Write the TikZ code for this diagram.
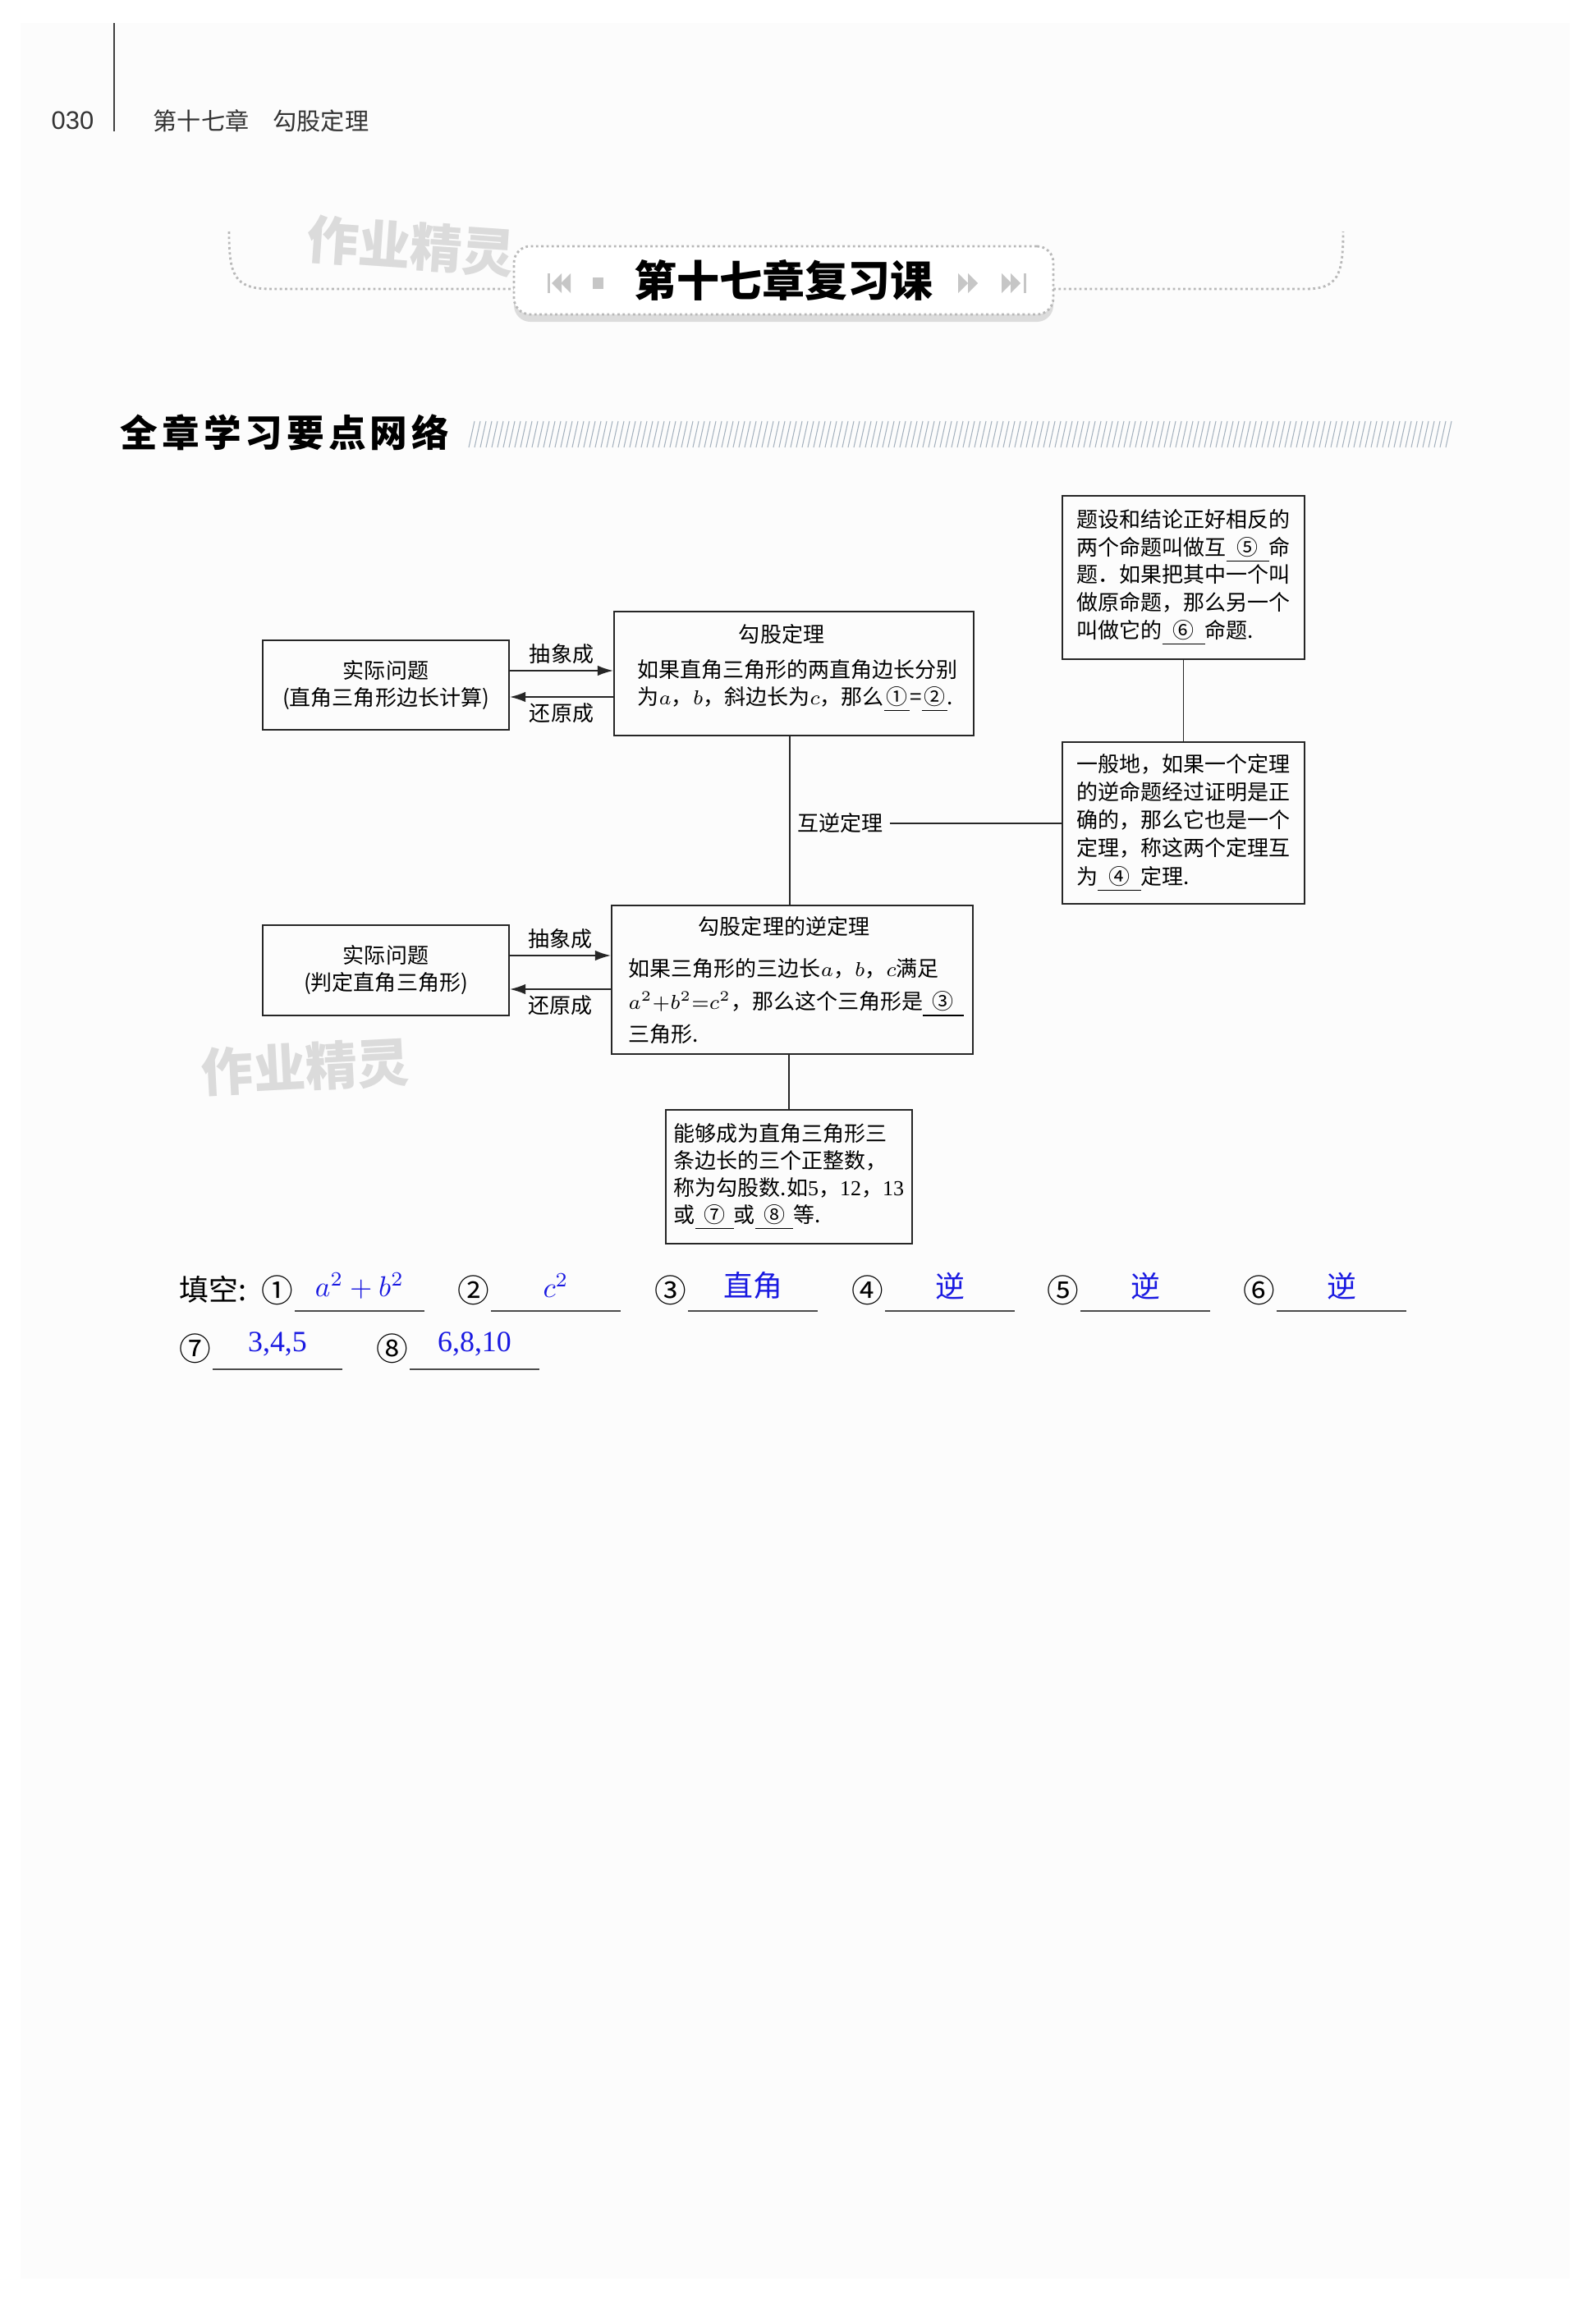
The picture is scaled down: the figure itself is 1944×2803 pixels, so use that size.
\documentclass[tikz,border=0pt]{standalone}
\usepackage{fontspec}
\setmainfont{Noto Sans CJK SC}
\newfontfamily\numfont{Liberation Serif}
\newfontfamily\pagefont{Liberation Sans}
\usetikzlibrary{arrows.meta,shadows}

\definecolor{pagegray}{RGB}{252,252,252}
\definecolor{hatchblue}{RGB}{165,178,190}
\definecolor{ansblue}{RGB}{25,25,225}

\newcommand{\boxfont}{\fontsize{7.4pt}{9.4pt}\selectfont}
\newcommand{\blankno}[2][2em]{\underline{\makebox[#1]{#2}}}

\begin{document}
\begin{tikzpicture}[x=0.1mm,y=-0.1mm,
    box/.style={draw=black!85,line width=0.5pt,inner sep=0pt,align=left,font=\boxfont},
    lbl/.style={inner sep=2pt,font=\boxfont},
    plain/.style={draw=black!85,line width=0.5pt},
    link/.style={plain,line width=0.6pt,-{Latex[length=5.5pt,width=3.6pt]}},
    wmark/.style={gray!28,font=\fontsize{18pt}{18pt}\selectfont\bfseries},
    deco/.style={fill=gray!45},
    circnum/.style={inner sep=0pt,font=\fontsize{11pt}{11pt}\selectfont},
    answer/.style={ansblue,inner sep=0pt,minimum width=15.6mm,minimum height=6mm,anchor=south,
                   font=\fontsize{10.2pt}{10.2pt}\selectfont},
    uline/.style={draw=black!70,line width=0.5pt}]
  \useasboundingbox (0,0) rectangle (1944,2803);
  \fill[pagegray] (25,28) rectangle (1912,2776);

  % Page header
  \draw[line width=0.6pt,black!75] (139,28) -- (139,160);
  \node[anchor=west,inner sep=0pt,black!80,font=\pagefont\fontsize{8.8pt}{8.8pt}\selectfont] (pageno) at (62,147) {030};
  \node[anchor=west,inner sep=0pt,black!80,font=\fontsize{8.3pt}{8.3pt}\selectfont] (chapter) at (186,147) {第十七章\quad 勾股定理};

  % Title banner
  \draw[gray!55,densely dotted,line width=0.8pt] (279,282) .. controls (279,335) and (285,352) .. (330,352) -- (626,352);
  \draw[gray!55,densely dotted,line width=0.8pt] (1283,352) -- (1590,352) .. controls (1630,352) and (1636,335) .. (1636,282);
  \node[wmark,rotate=-4] (wmtop) at (500,300) {作业精灵};
  \node[draw=gray!55,densely dotted,line width=0.8pt,fill=white,rounded corners=2mm,
        minimum width=65.7mm,minimum height=8.3mm,
        drop shadow={shadow xshift=0mm,shadow yshift=-0.9mm,opacity=0.25},
        font=\fontsize{14.8pt}{14.8pt}\selectfont\bfseries] (banner) at (954.5,341.5) {第十七章复习课};
  \fill[deco] (667,333) rectangle (670,357);
  \fill[deco] (672,345) -- (684,333) -- (684,357) -- cycle;
  \fill[deco] (683,345) -- (695,333) -- (695,357) -- cycle;
  \fill[deco] (722,338) rectangle (735,352);
  \fill[deco] (1167,333) -- (1179,345) -- (1167,357) -- cycle;
  \fill[deco] (1179,333) -- (1191,345) -- (1179,357) -- cycle;
  \fill[deco] (1220,333) -- (1232,345) -- (1220,357) -- cycle;
  \fill[deco] (1231,333) -- (1243,345) -- (1231,357) -- cycle;
  \fill[deco] (1247,333) rectangle (1250,357);

  % Section heading
  \node[anchor=west,inner sep=0pt,font=\fontsize{13pt}{13pt}\selectfont\bfseries\addfontfeature{LetterSpace=11}] (heading) at (146,527) {全章学习要点网络};
  \foreach \hx in {571,578,...,1764}
    \draw[hatchblue,line width=0.3pt] (\hx,545) -- (\hx+7,513);

  % Boxes
  \node[box,align=center,minimum width=30mm,minimum height=10.9mm] (realA) at (470,834.5) {实际问题\\(直角三角形边长计算)};
  \node[box,minimum width=43.8mm,minimum height=15.1mm] (pyth) at (967,820.5) {};
  \node[lbl] (pythtitle) at (952,773) {勾股定理};
  \node[lbl,anchor=west,align=left] (pythtext) at (769,835.5) {如果直角三角形的两直角边长分别\\为$a$，$b$，斜边长为$c$，那么\blankno[1.2em]{①}=\blankno[1.2em]{②}.};

  \node[box,minimum width=29.5mm,minimum height=19.9mm,font=\fontsize{7.4pt}{9.6pt}\selectfont] (defn) at (1441.5,703.5) {题设和结论正好相反的\\两个命题叫做互\blankno{⑤}命\\题．如果把其中一个叫\\做原命题，那么另一个\\叫做它的\blankno{⑥}命题.};
  \node[box,minimum width=29.5mm,minimum height=19.7mm,font=\fontsize{7.4pt}{9.7pt}\selectfont] (general) at (1441.5,1002.5) {一般地，如果一个定理\\的逆命题经过证明是正\\确的，那么它也是一个\\定理，称这两个定理互\\为\blankno{④}定理.};

  \node[box,align=center,minimum width=30mm,minimum height=11mm] (realE) at (470,1182) {实际问题\\(判定直角三角形)};
  \node[box,minimum width=44mm,minimum height=18.1mm] (conv) at (965,1193.5) {};
  \node[lbl] (convtitle) at (955,1129) {勾股定理的逆定理};
  \node[lbl,anchor=west,align=left,font=\fontsize{7.4pt}{11.4pt}\selectfont] (convtext) at (758,1220) {如果三角形的三边长$a$，$b$，$c$满足\\$a^2{+}b^2{=}c^2$，那么这个三角形是\blankno[1.9em]{③}\\三角形.};

  \node[box,minimum width=30mm,minimum height=16.3mm] (triple) at (961,1433.5) {能够成为直角三角形三\\条边长的三个正整数，\\称为勾股数.如{\numfont 5}，{\numfont 12}，{\numfont 13}\\或\blankno[1.8em]{⑦}或\blankno[1.8em]{⑧}等.};

  % Arrows
  \coordinate (absA) at ([yshift=1.75mm]realA.east);
  \coordinate (retA) at ([yshift=-1.45mm]realA.east);
  \draw[link] (absA) -- (absA -| pyth.west) node[midway,above,lbl] (absAlbl) {抽象成};
  \draw[link] (retA -| pyth.west) -- (retA) node[midway,below,lbl] (retAlbl) {还原成};
  \coordinate (absE) at ([yshift=1.8mm]realE.east);
  \coordinate (retE) at ([yshift=-2.3mm]realE.east);
  \draw[link] (absE) -- (absE -| conv.west) node[midway,above,lbl] (absElbl) {抽象成};
  \draw[link] (retE -| conv.west) -- (retE) node[midway,below,lbl] (retElbl) {还原成};

  % Lines
  \draw[plain] ([xshift=-0.5mm]pyth.south) -- ([xshift=-0.3mm]conv.north);
  \draw[plain] ([xshift=-0.4mm]conv.south) -- (triple.north);
  \draw[plain] (defn.south) -- (general.north);
  \node[lbl,anchor=west] (mutual) at (964,1003) {互逆定理};
  \draw[plain] (mutual.east) -- (mutual.east -| general.west);

  \node[wmark,rotate=3] (wmmid) at (372,1300) {作业精灵};

  % Answers
  \node[anchor=west,inner sep=0pt,font=\fontsize{10.2pt}{10.2pt}\selectfont] (fillhead) at (218,1571) {填空:};
  \foreach \cx/\cy/\num/\ans [count=\i] in {338/1572/①/{$a^2+b^2$},577/1572/②/{$c^2$},817/1572/③/直角,
      1057/1572/④/逆,1295/1572/⑤/逆,1534/1572/⑥/逆,238/1643/⑦/{\numfont 3,4,5},478/1643/⑧/{\numfont 6,8,10}}{
    \node[circnum] (num\i) at (\cx,\cy) {\num};
    \node[answer] (ans\i) at (\cx+100,\cy+25) {\ans};
    \draw[uline] (ans\i.south west) -- (ans\i.south east);
  }
\end{tikzpicture}
\end{document}
